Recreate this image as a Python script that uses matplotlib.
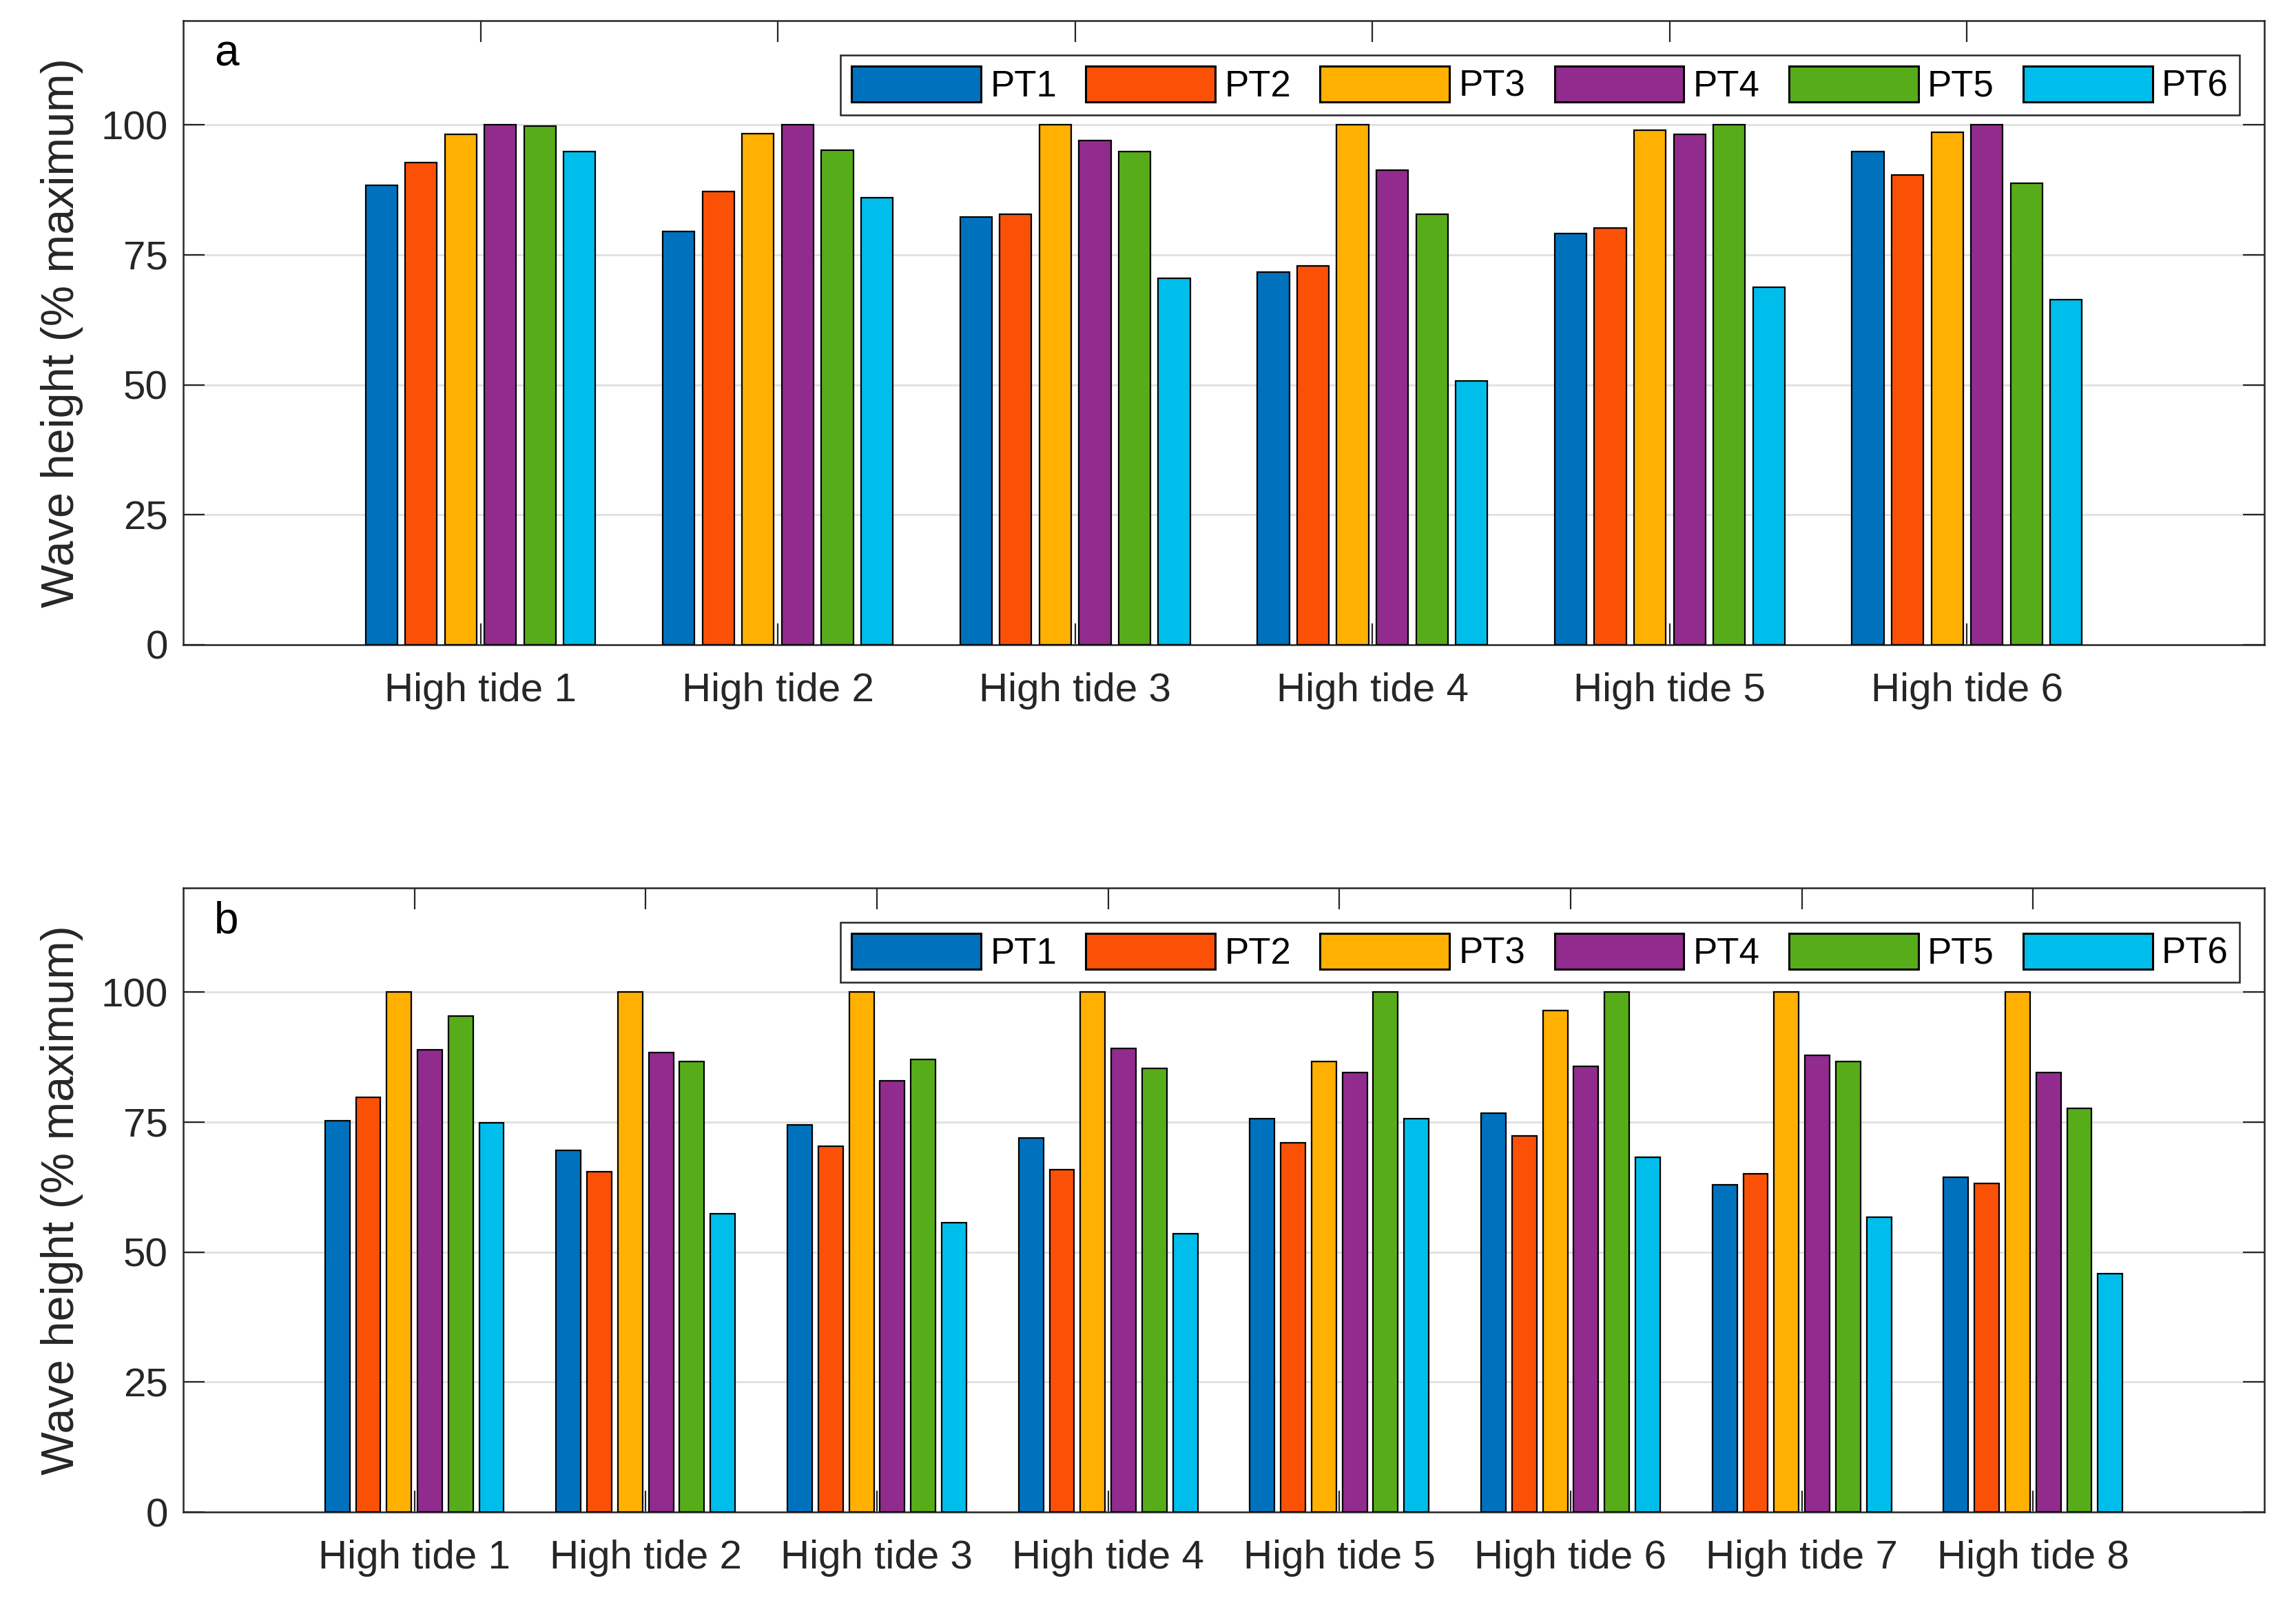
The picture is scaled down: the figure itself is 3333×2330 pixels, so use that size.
'''
grouped bar charts of relative wave height at six pressure transducers
'''

import numpy as np
import matplotlib.pyplot as plt

plt.rcParams['font.family'] = ['Liberation Sans', 'DejaVu Sans']

SENSORS = ['PT1', 'PT2', 'PT3', 'PT4', 'PT5', 'PT6']
COLOURS = ['#0072BD', '#FA5107', '#FFB000', '#912B8D', '#56AD19', '#00BEEC']

# panel a: one row per high tide, one column per sensor (PT1..PT6)
TIDES_A = ['High tide 1', 'High tide 2', 'High tide 3',
           'High tide 4', 'High tide 5', 'High tide 6']
WAVE_A = [
    [88.4, 92.7, 98.2, 100.0, 99.7, 94.8],
    [79.5, 87.1, 98.3, 100.0, 95.1, 86.0],
    [82.3, 82.8, 100.0, 96.9, 94.8, 70.4],
    [71.7, 72.8, 100.0, 91.3, 82.8, 50.7],
    [79.1, 80.1, 99.0, 98.2, 100.0, 68.8],
    [94.9, 90.4, 98.6, 100.0, 88.8, 66.3],
]

# panel b
TIDES_B = ['High tide 1', 'High tide 2', 'High tide 3', 'High tide 4',
           'High tide 5', 'High tide 6', 'High tide 7', 'High tide 8']
WAVE_B = [
    [75.2, 79.8, 100.0, 88.9, 95.4, 74.9],
    [69.6, 65.4, 100.0, 88.3, 86.6, 57.4],
    [74.5, 70.3, 100.0, 82.9, 87.0, 55.7],
    [72.0, 65.8, 100.0, 89.1, 85.3, 53.5],
    [75.7, 71.0, 86.6, 84.5, 100.0, 75.6],
    [76.7, 72.4, 96.5, 85.7, 100.0, 68.2],
    [62.9, 65.0, 100.0, 87.8, 86.7, 56.7],
    [64.4, 63.2, 100.0, 84.5, 77.7, 45.9],
]

Y_TICKS = [0, 25, 50, 75, 100]
DARK = '#262626'

STEP = 0.8 / 6      # distance between bars inside a group
WIDTH = 0.107       # bar width


def draw_panel(ax, tides, values, letter):
    '''
    draws one grouped bar panel in MATLAB-like style
    '''
    values = np.array(values)
    x = np.arange(1, len(tides) + 1)
    for j, name in enumerate(SENSORS):
        ax.bar(x + (j - 2.5) * STEP, values[:, j], WIDTH,
               color=COLOURS[j], edgecolor='black', linewidth=1.6,
               label=name, zorder=3)

    ax.set_xlim(0, len(tides) + 1)
    ax.set_ylim(0, 120)
    ax.set_xticks(x)
    ax.set_xticklabels(tides)
    ax.set_yticks(Y_TICKS)

    ax.yaxis.grid(True, color='#e2e2e2', linewidth=2.2)
    ax.set_axisbelow(True)

    ax.tick_params(direction='in', top=True, right=True, length=22,
                   width=1.6, color=DARK, labelcolor=DARK, labelsize=42)
    ax.tick_params(axis='x', pad=29)
    ax.tick_params(axis='y', pad=16)
    for sp in ax.spines.values():
        sp.set_linewidth(1.8)
        sp.set_color(DARK)

    ax.set_ylabel('Wave height (% maximum)', fontsize=48, color=DARK)
    ax.yaxis.set_label_coords(-0.048, 0.5)

    ax.text(0.015, 0.947, letter, transform=ax.transAxes, fontsize=46,
            ha='left', va='center', color='black')

    leg = ax.legend(ncol=6, loc='upper right', bbox_to_anchor=(0.988, 0.945),
                    borderaxespad=0, fontsize=38, handlelength=3.56,
                    handleheight=1.15, handletextpad=0.25, columnspacing=0.8,
                    borderpad=0.3, fancybox=False, framealpha=1,
                    edgecolor=DARK)
    leg.get_frame().set_linewidth(1.8)
    for patch in leg.get_patches():
        patch.set_linewidth(2.2)


fig = plt.figure(figsize=(33.33, 23.30), dpi=100)
ax_a = fig.add_axes([0.0798, 0.5983, 0.9064, 0.3888])
ax_b = fig.add_axes([0.0798, 0.0579, 0.9064, 0.3888])

draw_panel(ax_a, TIDES_A, WAVE_A, 'a')
draw_panel(ax_b, TIDES_B, WAVE_B, 'b')

fig.savefig('out.png', dpi=100)
